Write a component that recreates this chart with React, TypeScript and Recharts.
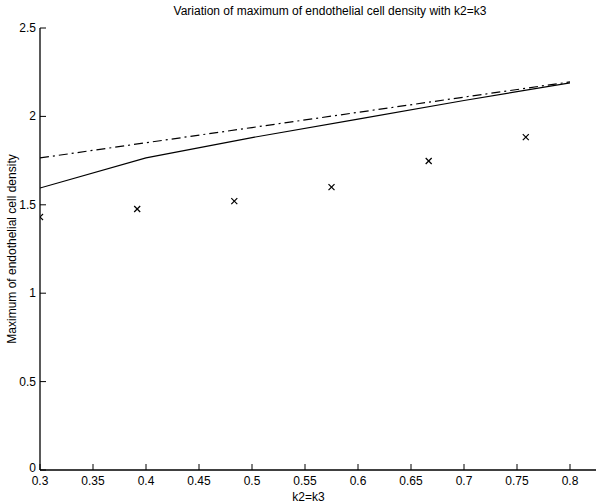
import React from 'react'
import { ComposedChart, Line, Scatter, XAxis, YAxis } from 'recharts'

// k2=k3 values and maxima
const lineK = [0.3, 0.4, 0.5, 0.6, 0.7, 0.8]
const solidMax = [1.595, 1.765, 1.88, 1.985, 2.09, 2.19]
const dashDotMax = [1.765, 1.851, 1.937, 2.023, 2.109, 2.195]

const crossK = [0.3, 0.3917, 0.4833, 0.575, 0.6667, 0.7583]
const crossMax = [1.431, 1.476, 1.521, 1.6, 1.748, 1.883]

const xTicks = [0.3, 0.35, 0.4, 0.45, 0.5, 0.55, 0.6, 0.65, 0.7, 0.75, 0.8, 0.85]
const yTicks = [0, 0.5, 1, 1.5, 2, 2.5]

const solidData = lineK.map((x, i) => ({ x, y: solidMax[i] }))
const dashDotData = lineK.map((x, i) => ({ x, y: dashDotMax[i] }))
const crossData = crossK.map((x, i) => ({ x, y: crossMax[i] }))

const font = '"Liberation Sans", Arial, Helvetica, sans-serif'

const BottomTick = (props: any) => {
  const { x, y, payload } = props
  return (
    <g>
      <line x1={x} x2={x} y1={y} y2={y - 6} stroke="#000" />
      {payload.value <= 0.8 && (
        <text x={x} y={y + 15} textAnchor="middle" fontSize={12} fill="#000" fontFamily={font}>
          {String(payload.value)}
        </text>
      )}
    </g>
  )
}

const TopTick = (props: any) => {
  const { x, y } = props
  return <line x1={x} x2={x} y1={y} y2={y + 6} stroke="#000" />
}

const LeftTick = (props: any) => {
  const { x, y, payload } = props
  return (
    <g>
      <line x1={x} x2={x + 6} y1={y} y2={y} stroke="#000" />
      <text x={x - 4} y={payload.value === 0 ? y + 2 : y + 4} textAnchor="end" fontSize={12} fill="#000" fontFamily={font}>
        {String(payload.value)}
      </text>
    </g>
  )
}

const Cross = (props: any) => {
  const { cx, cy } = props
  const s = 3
  return (
    <g stroke="#000" strokeWidth={1.2}>
      <line x1={cx - s} y1={cy - s} x2={cx + s} y2={cy + s} />
      <line x1={cx - s} y1={cy + s} x2={cx + s} y2={cy - s} />
    </g>
  )
}

export default function App() {
  return (
    <div style={{ position: 'absolute', left: 0, top: 0, width: 596, height: 503, overflow: 'hidden', background: '#fff', fontFamily: font }}>
      <div style={{ position: 'absolute', left: 0, width: 660, top: 4, textAlign: 'center', fontSize: 12, color: '#000' }}>
        Variation of maximum of endothelial cell density with k2=k3
      </div>
      <ComposedChart width={623} height={503} margin={{ top: 28, right: 0, bottom: 0, left: 0 }}>
        <XAxis
          xAxisId="bottom"
          type="number"
          dataKey="x"
          domain={[0.3, 0.85]}
          ticks={xTicks}
          interval={0}
          tickSize={0}
          tickMargin={0}
          tick={<BottomTick />}
          height={33}
          axisLine={{ stroke: '#000', strokeWidth: 1.3 }}
          allowDataOverflow
          label={{ value: 'k2=k3', position: 'insideBottom', offset: 2, dx: -23, fill: '#000', fontSize: 12, fontFamily: font }}
        />
        <XAxis
          xAxisId="top"
          orientation="top"
          type="number"
          dataKey="x"
          domain={[0.3, 0.85]}
          ticks={xTicks}
          interval={0}
          tickSize={0}
          tickMargin={0}
          tick={<TopTick />}
          height={0}
          axisLine={{ stroke: '#000', strokeWidth: 1.3 }}
          allowDataOverflow
        />
        <YAxis
          type="number"
          domain={[0, 2.5]}
          ticks={yTicks}
          interval={0}
          tickSize={0}
          tickMargin={0}
          tick={<LeftTick />}
          width={40}
          axisLine={{ stroke: '#000', strokeWidth: 1.3 }}
          label={{ value: 'Maximum of endothelial cell density', angle: -90, position: 'insideLeft', offset: 12, fill: '#000', fontSize: 12, fontFamily: font, style: { textAnchor: 'middle' } }}
        />
        <Line xAxisId="bottom" data={solidData} dataKey="y" type="linear" stroke="#000" strokeWidth={1.2} dot={false} isAnimationActive={false} />
        <Line xAxisId="bottom" data={dashDotData} dataKey="y" type="linear" stroke="#000" strokeWidth={1.2} strokeDasharray="9 4 2 4" dot={false} isAnimationActive={false} />
        <Scatter xAxisId="bottom" data={crossData} dataKey="y" shape={<Cross />} isAnimationActive={false} />
      </ComposedChart>
    </div>
  )
}
